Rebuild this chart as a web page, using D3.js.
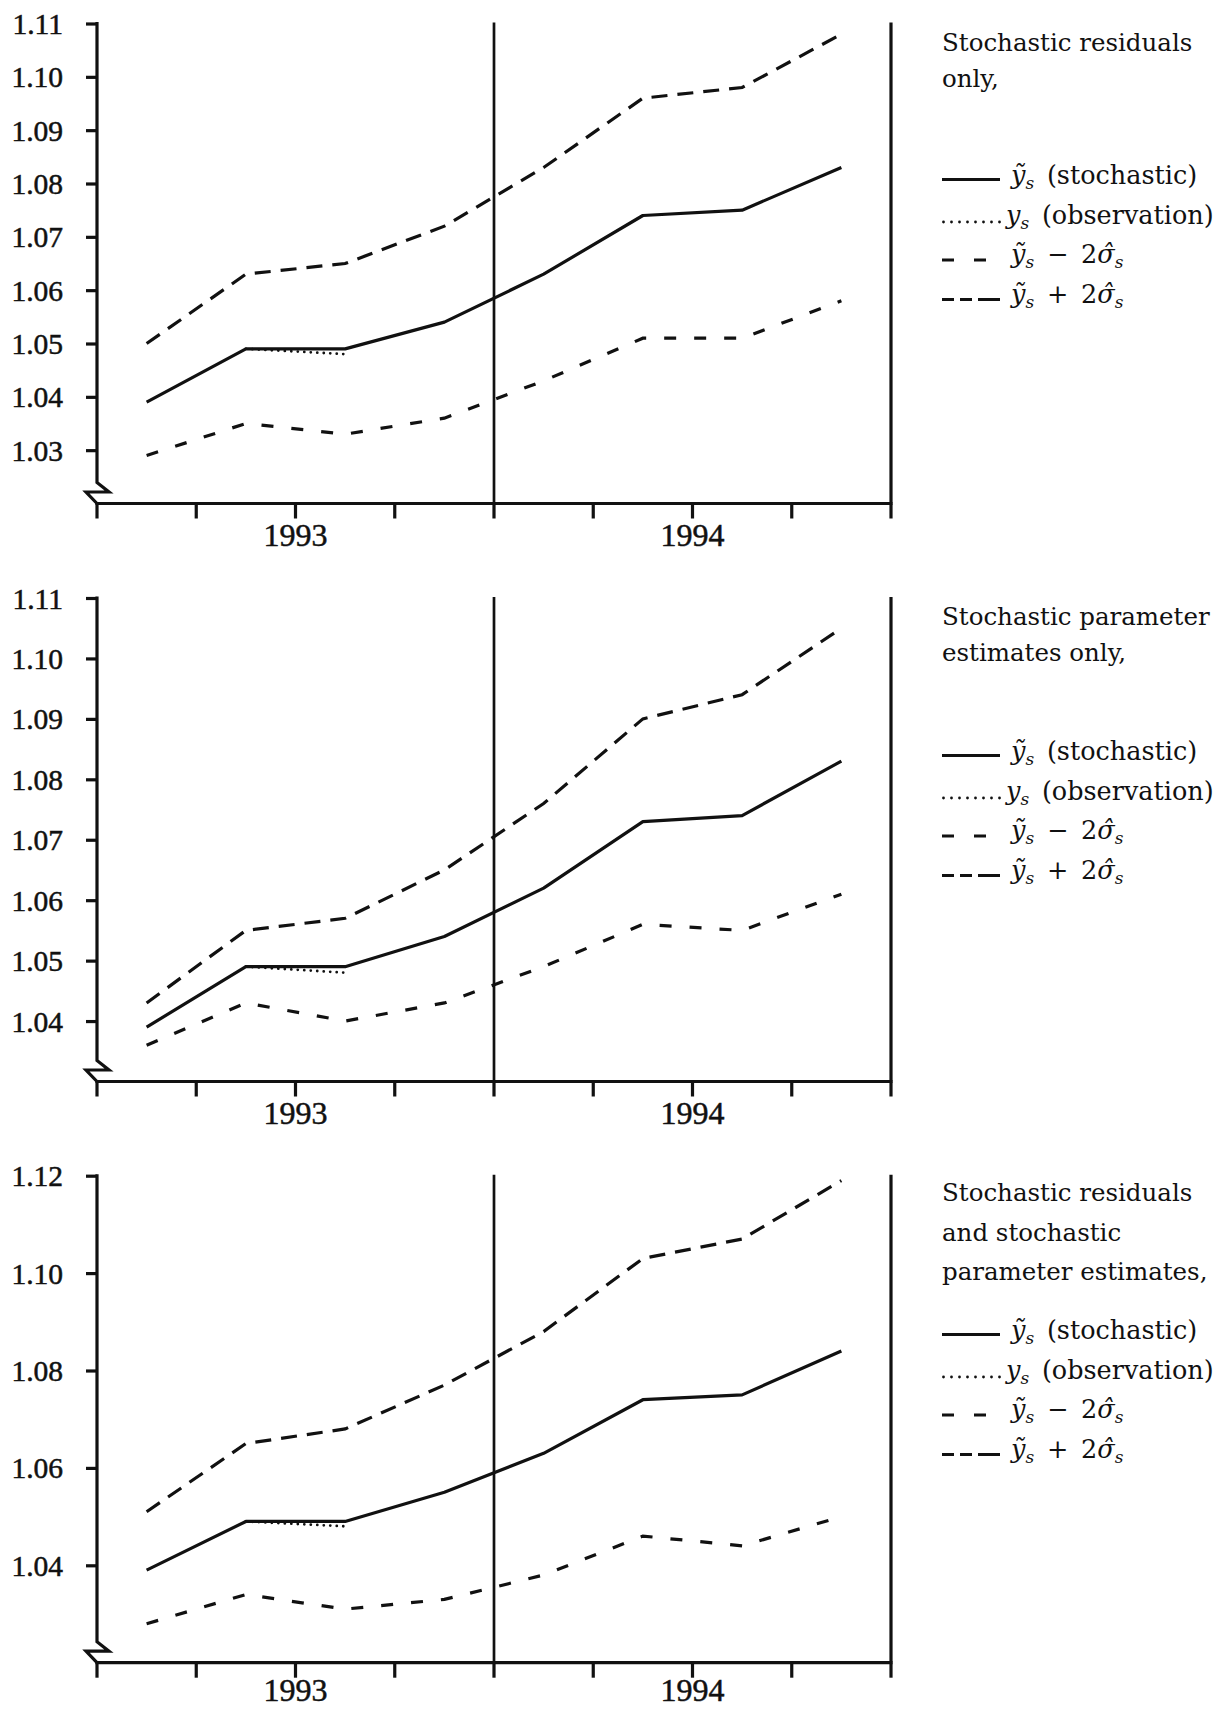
<!DOCTYPE html>
<html>
<head>
<meta charset="utf-8">
<script src="https://cdn.jsdelivr.net/npm/d3@7"></script>
<style>
  html, body { margin: 0; padding: 0; background: #fff; }
  svg { display: block; }
</style>
</head>
<body>
<svg id="chart" width="1229" height="1709"></svg>
<script>
// ---- Data -------------------------------------------------------------
const quarters = ["1993Q1", "1993Q2", "1993Q3", "1993Q4", "1994Q1", "1994Q2", "1994Q3", "1994Q4"];
const yearLabels = ["1993", "1994"];
const yearCentreQuarter = ["1993Q3", "1994Q3"];
const forecastStart = "1994Q1";
const obsQuarters = ["1993Q2", "1993Q3"];

// Panel 1: stochastic residuals only
const p1Stochastic = [1.039, 1.049, 1.049, 1.054, 1.063, 1.074, 1.075, 1.083];
const p1Observed   = [1.049, 1.048];
const p1Lower      = [1.029, 1.035, 1.033, 1.036, 1.043, 1.051, 1.051, 1.058];
const p1Upper      = [1.050, 1.063, 1.065, 1.072, 1.083, 1.096, 1.098, 1.108];
const p1Ticks      = [1.03, 1.04, 1.05, 1.06, 1.07, 1.08, 1.09, 1.10, 1.11];
const p1Range      = [1.02, 1.11];

// Panel 2: stochastic parameter estimates only
const p2Stochastic = [1.039, 1.049, 1.049, 1.054, 1.062, 1.073, 1.074, 1.083];
const p2Observed   = [1.049, 1.048];
const p2Lower      = [1.036, 1.043, 1.040, 1.043, 1.049, 1.056, 1.055, 1.061];
const p2Upper      = [1.043, 1.055, 1.057, 1.065, 1.076, 1.090, 1.094, 1.105];
const p2Ticks      = [1.04, 1.05, 1.06, 1.07, 1.08, 1.09, 1.10, 1.11];
const p2Range      = [1.03, 1.11];

// Panel 3: stochastic residuals and stochastic parameter estimates
const p3Stochastic = [1.039, 1.049, 1.049, 1.055, 1.063, 1.074, 1.075, 1.084];
const p3Observed   = [1.049, 1.048];
const p3Lower      = [1.028, 1.034, 1.031, 1.033, 1.038, 1.046, 1.044, 1.050];
const p3Upper      = [1.051, 1.065, 1.068, 1.077, 1.088, 1.103, 1.107, 1.119];
const p3Ticks      = [1.04, 1.06, 1.08, 1.10, 1.12];
const p3Range      = [1.02, 1.12];

const p1Title = ["Stochastic residuals", "only,"];
const p2Title = ["Stochastic parameter", "estimates only,"];
const p3Title = ["Stochastic residuals", "and stochastic", "parameter estimates,"];

// ---- Layout -------------------------------------------------------------
const svg = d3.select("#chart");
svg.append("rect").attr("width", 1229).attr("height", 1709).attr("fill", "#fff");

const axisFont = "'Liberation Serif', 'Times New Roman', serif";
const legendFont = "'DejaVu Serif', serif";
const INK = "#111";

const x = d3.scaleBand().domain(quarters).range([97, 891]).paddingInner(0).paddingOuter(0);
const xc = q => x(q) + x.bandwidth() / 2;
const edges = quarters.map(q => x(q)).concat([x.range()[1]]);

const panels = [
  { stoch: p1Stochastic, obs: p1Observed, lower: p1Lower, upper: p1Upper, ticks: p1Ticks, range: p1Range,
    top: 23.5, axisY: 503.5, title: p1Title,
    titleY: [50.5, 87], itemY: [184, 223.5, 263, 302.5] },
  { stoch: p2Stochastic, obs: p2Observed, lower: p2Lower, upper: p2Upper, ticks: p2Ticks, range: p2Range,
    top: 598, axisY: 1081.5, title: p2Title,
    titleY: [625, 660.5], itemY: [760, 799.5, 839, 878.5] },
  { stoch: p3Stochastic, obs: p3Observed, lower: p3Lower, upper: p3Upper, ticks: p3Ticks, range: p3Range,
    top: 1175.7, axisY: 1662.7, title: p3Title,
    titleY: [1200.5, 1241, 1279.5], itemY: [1339, 1378.5, 1418, 1457.5] }
];

const fmt = d3.format(".2f");
const LW = 3.2;

panels.forEach(p => {
  const y = d3.scaleLinear().domain(p.range).range([p.axisY, p.top]);
  const g = svg.append("g");

  // y axis ticks and labels
  const yAxis = d3.axisLeft(y).tickValues(p.ticks).tickSize(11).tickPadding(23).tickFormat(fmt);
  const ya = g.append("g").attr("transform", `translate(${x.range()[0]},0)`).call(yAxis);
  ya.select(".domain").remove();
  ya.selectAll(".tick line").attr("stroke", INK).attr("stroke-width", 3.2);
  ya.selectAll(".tick text")
    .attr("font-family", axisFont).attr("font-size", 29.5).attr("fill", INK)
    .attr("stroke", INK).attr("stroke-width", 0.5)
    .attr("dy", null).attr("y", 10);

  // y axis line with scale break near the origin
  const x0 = x.range()[0];
  g.append("path")
    .attr("d", `M${x0},${p.top - 1.5} V${p.axisY - 21} L${x0 + 12},${p.axisY - 11.5} L${x0 - 11},${p.axisY - 11.5} L${x0},${p.axisY}`)
    .attr("fill", "none").attr("stroke", INK).attr("stroke-width", 3.2).attr("stroke-linejoin", "miter");

  // x axis with quarter ticks
  const xa = g.append("g").attr("transform", `translate(0,${p.axisY})`);
  xa.append("line").attr("x1", x0 - 1.5).attr("x2", x.range()[1] + 1.5)
    .attr("stroke", INK).attr("stroke-width", 3.2);
  xa.selectAll("line.tick").data(edges).join("line").attr("class", "tick")
    .attr("x1", d => d).attr("x2", d => d).attr("y1", 0).attr("y2", 15)
    .attr("stroke", INK).attr("stroke-width", 3.2);
  xa.selectAll("text").data(yearLabels).join("text")
    .attr("x", (d, i) => x(yearCentreQuarter[i]))
    .attr("y", Math.min(42, 1701 - p.axisY))
    .attr("text-anchor", "middle")
    .attr("font-family", axisFont).attr("font-size", 32).attr("fill", INK)
    .attr("stroke", INK).attr("stroke-width", 0.5)
    .text(d => d);

  // start of 1994 and right-hand frame
  g.append("line").attr("x1", x(forecastStart)).attr("x2", x(forecastStart))
    .attr("y1", p.top - 1).attr("y2", p.axisY)
    .attr("stroke", INK).attr("stroke-width", 2.7);
  g.append("line").attr("x1", x.range()[1]).attr("x2", x.range()[1])
    .attr("y1", p.top - 1).attr("y2", p.axisY)
    .attr("stroke", INK).attr("stroke-width", 3.2);

  const line = d3.line().x(d => xc(d[0])).y(d => y(d[1]));
  const series = vals => quarters.map((q, i) => [q, vals[i]]);

  g.append("path").datum(series(p.upper)).attr("d", line)
    .attr("fill", "none").attr("stroke", INK).attr("stroke-width", LW)
    .attr("stroke-dasharray", "16,10");
  g.append("path").datum(series(p.lower)).attr("d", line)
    .attr("fill", "none").attr("stroke", INK).attr("stroke-width", LW)
    .attr("stroke-dasharray", "12,18");
  g.append("path").datum(obsQuarters.map((q, i) => [q, p.obs[i]])).attr("d", line)
    .attr("fill", "none").attr("stroke", INK).attr("stroke-width", 2.8)
    .attr("stroke-linecap", "round").attr("stroke-dasharray", "0,6.5");
  g.append("path").datum(series(p.stoch)).attr("d", line)
    .attr("fill", "none").attr("stroke", INK).attr("stroke-width", LW)
    .attr("stroke-linejoin", "round");

  // legend
  const lg = g.append("g");
  const lx = 942;
  p.title.forEach((t, i) => {
    lg.append("text").attr("x", lx).attr("y", p.titleY[i])
      .attr("font-family", legendFont).attr("font-size", 24.5).attr("fill", INK).text(t);
  });

  const samples = [
    { dash: null, dy: -4.5, cap: "butt" },
    { dash: "0,8", dy: -1.5, cap: "round" },
    { dash: "12,20", dy: -3, cap: "butt" },
    { dash: "12,6,12,6,22", dy: -3, cap: "butt" }
  ];
  samples.forEach((s, i) => {
    const l = lg.append("line")
      .attr("x1", lx + (s.cap === "round" ? 1.5 : 0)).attr("x2", lx + 58)
      .attr("y1", p.itemY[i] + s.dy).attr("y2", p.itemY[i] + s.dy)
      .attr("stroke", INK).attr("stroke-width", 2.8)
      .attr("stroke-linecap", s.cap);
    if (s.dash) l.attr("stroke-dasharray", s.dash);
  });

  const items = [
    [["ỹ", "i"], ["s", "sub"], ["\u2002(stochastic)", "n"]],
    [["y", "i"], ["s", "sub"], ["\u2002(observation)", "n"]],
    [["ỹ", "i"], ["s", "sub"], ["\u2002−\u20022", "n"], ["σ̂", "i"], ["s", "sub"]],
    [["ỹ", "i"], ["s", "sub"], ["\u2002+\u20022", "n"], ["σ̂", "i"], ["s", "sub"]]
  ];
  items.forEach((parts, i) => {
    const t = lg.append("text")
      .attr("x", i === 1 ? 1006 : 1011).attr("y", p.itemY[i])
      .attr("font-family", legendFont).attr("font-size", 25.5).attr("fill", INK);
    let shifted = false;
    parts.forEach(([txt, kind]) => {
      const ts = t.append("tspan").text(txt);
      if (kind === "i") ts.attr("font-style", "italic");
      if (kind === "sub") {
        ts.attr("font-style", "italic").attr("font-size", 17).attr("dy", 5);
        shifted = true;
      } else if (shifted) {
        ts.attr("dy", -5);
        shifted = false;
      }
    });
  });
});
</script>
</body>
</html>
